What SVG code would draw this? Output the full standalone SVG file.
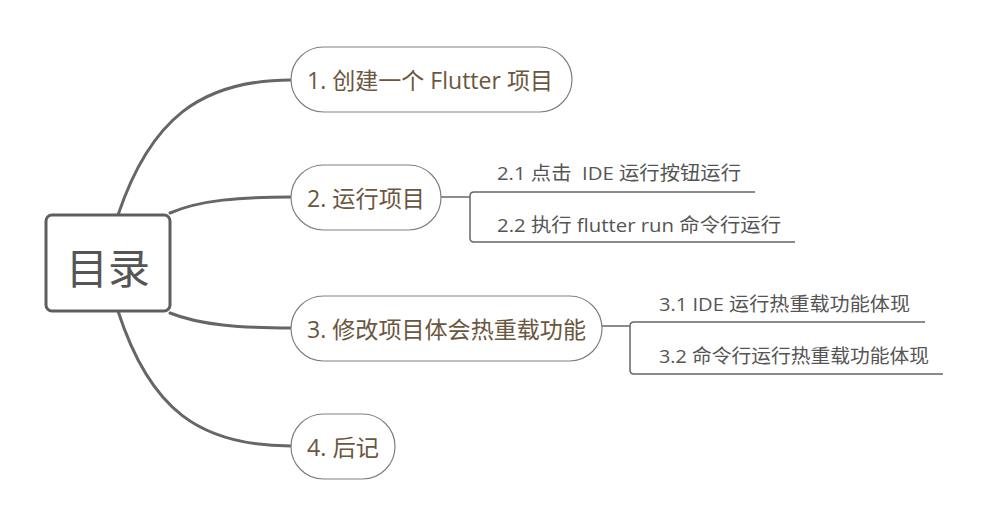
<svg xmlns="http://www.w3.org/2000/svg" width="995" height="528" viewBox="0 0 995 528">
<style>
.conn{fill:none;stroke:#666;stroke-width:3;stroke-linecap:round}
.sub{fill:none;stroke:#666;stroke-width:1.5}
.pill{fill:#fff;stroke:#808080;stroke-width:1.2}
.t{font-family:"Open Sans","Noto Sans CJK SC",sans-serif;font-size:23px;fill:#6b5640}
.s{font-family:"Open Sans","Noto Sans CJK SC",sans-serif;font-size:19px;fill:#555}
.root{font-family:"Noto Sans CJK SC",sans-serif;font-size:42px;fill:#555}
</style>
<rect width="995" height="528" fill="#fff"/>
<g id="connectors">
<path class="conn" d="M118 215 C150 120 200 80 291 80"/>
<path class="conn" d="M170 213 C200 200 240 197 291 197"/>
<path class="conn" d="M170 313 C200 325 240 328 291 328"/>
<path class="conn" d="M118 311 C150 410 200 446 291 446"/>
<path class="sub" d="M441 197 H470"/>
<path class="sub" d="M755 192 H474 Q470 192 470 196 V238 Q470 242 474 242 H795"/>
<path class="sub" d="M602 326 H630"/>
<path class="sub" d="M925 322 H634 Q630 322 630 326 V370 Q630 374 634 374 H943"/>
</g>
<g id="root">
<rect x="46" y="215" width="124" height="96" rx="6" fill="#fff" stroke="#5e5e5e" stroke-width="3"/>
<text class="root" x="108" y="284" text-anchor="middle">目录</text>
</g>
<g id="n1">
<rect class="pill" x="291" y="47" width="281" height="65" rx="32.5"/>
<text class="t" x="307" y="89" textLength="246" lengthAdjust="spacingAndGlyphs">1. 创建一个 Flutter 项目</text>
</g>
<g id="n2">
<rect class="pill" x="291" y="165" width="150" height="65" rx="32.5"/>
<text class="t" x="307" y="207" textLength="118" lengthAdjust="spacingAndGlyphs">2. 运行项目</text>
</g>
<g id="n21"><text class="s" x="497" y="180" xml:space="preserve" textLength="244" lengthAdjust="spacingAndGlyphs">2.1 点击  IDE 运行按钮运行</text></g>
<g id="n22"><text class="s" x="497" y="232" textLength="284" lengthAdjust="spacingAndGlyphs">2.2 执行 flutter run 命令行运行</text></g>
<g id="n3">
<rect class="pill" x="291" y="296" width="311" height="65" rx="32.5"/>
<text class="t" x="307" y="338" textLength="279" lengthAdjust="spacingAndGlyphs">3. 修改项目体会热重载功能</text>
</g>
<g id="n31"><text class="s" x="659" y="311" textLength="251" lengthAdjust="spacingAndGlyphs">3.1 IDE 运行热重载功能体现</text></g>
<g id="n32"><text class="s" x="659" y="363" textLength="270" lengthAdjust="spacingAndGlyphs">3.2 命令行运行热重载功能体现</text></g>
<g id="n4">
<rect class="pill" x="291" y="414" width="104" height="65" rx="32.5"/>
<text class="t" x="307" y="456" textLength="72" lengthAdjust="spacingAndGlyphs">4. 后记</text>
</g>
</svg>
